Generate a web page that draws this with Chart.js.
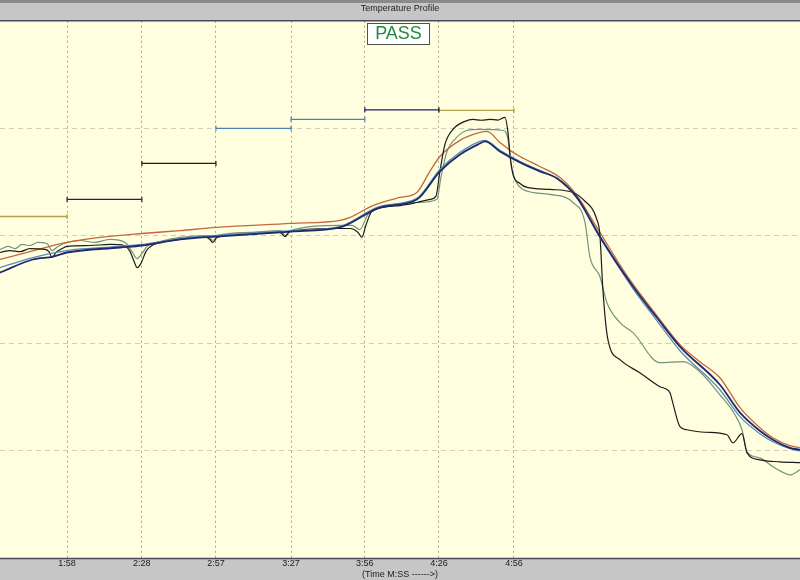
<!DOCTYPE html>
<html>
<head>
<meta charset="utf-8">
<script src="https://cdn.jsdelivr.net/npm/chart.js@4/dist/chart.umd.min.js"></script>
<style>
  html, body { margin: 0; padding: 0; background: #c6c6c6; }
  canvas { display: block; }
</style>
</head>
<body>
<canvas id="profile" width="800" height="580"></canvas>
<script>
// time axis (seconds) and its labels
const tickTimes = [118, 147.8, 177.3, 207.2, 236.6, 266.1, 296];
const tickLabels = ["1:58", "2:28", "2:57", "3:27", "3:56", "4:26", "4:56"];

// oven zone setpoints
const zoneStart = [85, 118, 147.8, 177.3, 207.2, 236.6, 266.1];
const zoneEnd = [118, 147.8, 177.3, 207.2, 236.6, 266.1, 296];
const zoneTemp = [190.8, 200.3, 220.4, 240.0, 245.0, 250.3, 250.0];

// thermocouple readings
const navyTime = [91.3, 104.4, 112.4, 118.0, 139.1, 147.8, 163.0, 177.3, 207.2, 226.7, 242.6, 257.3, 266.5, 274.5, 282.4, 284.4, 290.4, 298.4, 306.3, 313.1, 321.1, 330.2, 343.4, 352.9, 362.1, 378.0, 386.0, 393.9, 399.1, 405.9, 409.9];
const navyTemp = [159.5, 166.8, 168.4, 170.7, 173.5, 174.6, 178.0, 179.6, 182.4, 184.7, 195.8, 200.3, 216.0, 225.4, 231.5, 232.7, 227.1, 221.0, 216.0, 212.1, 201.4, 179.6, 151.7, 134.4, 118.2, 96.9, 81.3, 71.2, 66.2, 61.7, 60.6];

const steelTime = [91.3, 104.4, 118.0, 139.1, 147.8, 163.0, 177.3, 207.2, 226.7, 242.6, 257.3, 266.5, 274.5, 282.4, 284.4, 290.4, 298.4, 306.3, 313.1, 321.1, 330.2, 343.4, 352.9, 362.1, 378.0, 386.0, 393.9, 399.1, 405.9, 409.9];
const steelTemp = [162.3, 167.9, 171.8, 174.1, 175.2, 178.5, 180.2, 182.9, 185.2, 196.4, 200.9, 217.1, 226.6, 232.7, 233.3, 227.7, 221.5, 216.5, 212.0, 200.9, 179.1, 150.6, 132.7, 115.9, 94.1, 79.1, 69.6, 65.1, 61.2, 60.0];

const redTime = [91.3, 103.2, 118.0, 131.1, 147.8, 163.0, 177.3, 207.2, 226.7, 230.7, 239.8, 250.6, 257.3, 262.5, 266.5, 274.5, 282.4, 285.2, 290.4, 294.4, 298.4, 306.3, 314.3, 321.1, 329.0, 341.0, 352.9, 362.1, 370.0, 378.0, 386.0, 393.9, 399.1, 405.9, 409.9];
const redTemp = [166.8, 171.2, 176.3, 179.1, 181.3, 182.9, 184.7, 186.9, 188.6, 190.3, 196.9, 201.4, 204.2, 216.0, 224.3, 233.3, 237.7, 238.3, 232.1, 227.7, 224.3, 218.7, 212.5, 202.5, 184.7, 157.8, 135.5, 119.3, 109.8, 100.8, 84.1, 72.9, 67.3, 62.9, 61.7];

const blackTime = [91.3, 95.3, 99.3, 103.2, 109.2, 110.8, 112.0, 113.6, 116.0, 118.0, 127.1, 135.1, 140.7, 143.1, 144.7, 145.9, 147.4, 149.4, 151.8, 163.0, 172.9, 174.9, 176.1, 177.7, 186.9, 202.8, 204.8, 206.8, 222.7, 230.7, 233.9, 235.4, 237.0, 239.4, 250.6, 257.3, 262.5, 264.9, 266.5, 268.5, 271.7, 276.5, 279.6, 283.0, 286.4, 289.5, 292.4, 293.6, 294.4, 295.6, 298.4, 301.2, 310.3, 319.5, 323.5, 329.0, 330.2, 331.4, 333.4, 338.2, 346.1, 354.1, 358.1, 358.9, 362.1, 364.9, 372.0, 380.8, 383.2, 386.8, 388.8, 393.9, 401.9, 409.9];
const blackTemp = [170.7, 171.8, 171.2, 172.9, 172.4, 171.2, 167.9, 170.7, 172.9, 174.1, 174.6, 175.2, 174.6, 171.2, 165.7, 162.3, 164.5, 171.2, 174.6, 178.0, 179.6, 178.0, 176.3, 179.1, 180.7, 181.9, 179.6, 182.4, 184.1, 184.1, 181.9, 179.1, 185.8, 193.6, 196.9, 198.6, 200.3, 202.0, 216.0, 231.0, 239.4, 243.9, 245.0, 244.5, 245.0, 244.6, 246.1, 237.7, 225.4, 214.3, 209.2, 207.0, 205.9, 204.2, 200.3, 189.1, 180.7, 150.0, 122.1, 110.9, 103.6, 95.8, 92.5, 88.6, 73.5, 71.8, 70.4, 69.0, 64.5, 69.6, 58.9, 55.0, 53.9, 53.4];

const grayTime = [91.3, 94.5, 97.3, 100.1, 103.2, 106.4, 110.0, 112.0, 114.4, 118.0, 123.2, 129.1, 135.1, 141.1, 143.9, 145.9, 147.8, 150.2, 155.0, 163.0, 174.1, 176.1, 178.1, 190.9, 203.2, 204.8, 206.8, 226.7, 231.5, 234.6, 237.8, 242.6, 257.3, 265.3, 266.9, 269.3, 272.5, 277.3, 282.4, 291.6, 293.6, 294.8, 296.4, 299.6, 310.3, 319.5, 324.3, 326.2, 330.2, 333.0, 338.2, 343.4, 354.1, 363.3, 370.0, 378.0, 384.0, 386.8, 388.8, 393.9, 399.1, 402.7, 405.9, 409.9];
const grayTemp = [172.4, 174.1, 172.9, 175.2, 174.6, 176.3, 175.7, 171.8, 174.1, 176.3, 177.4, 176.3, 178.0, 176.3, 171.2, 167.3, 170.1, 174.6, 176.8, 179.1, 180.2, 177.4, 180.2, 181.9, 182.9, 180.2, 182.9, 185.8, 185.8, 183.5, 191.9, 195.8, 198.6, 200.3, 212.6, 227.1, 234.0, 238.8, 239.4, 238.8, 234.0, 219.8, 211.4, 205.9, 203.1, 198.6, 187.4, 168.4, 157.3, 142.7, 131.6, 126.0, 109.2, 109.8, 104.2, 91.3, 80.2, 71.8, 59.5, 56.1, 51.1, 48.3, 46.6, 49.4];

const zoneColors = ["#b4a04c", "#22244e", "#1e1e1e", "#4f82b2", "#4f82b2", "#1c1c5a", "#b4a04c"];

function pts(xs, ys) {
    return xs.map((x, i) => ({ x: x, y: ys[i] }));
}

function curve(data, color, width) {
    return {
        data: data,
        borderColor: color,
        borderWidth: width,
        pointRadius: 0,
        cubicInterpolationMode: "monotone",
        fill: false
    };
}

let datasets = [
    curve(pts(navyTime, navyTemp), "#1f2a6e", 1.8),
    curve(pts(steelTime, steelTemp), "#5a8ab4", 1.3),
    curve(pts(blackTime, blackTemp), "#1c1c1c", 1.2),
    curve(pts(redTime, redTemp), "#c4673f", 1.3),
    curve(pts(grayTime, grayTemp), "#74927f", 1.2)
];

zoneTemp.forEach((t, i) => {
    datasets.push({
        data: [{ x: zoneStart[i], y: t }, { x: zoneEnd[i], y: t }],
        borderColor: zoneColors[i],
        borderWidth: 1.3,
        pointStyle: "line",
        rotation: 90,
        pointRadius: 2.5,
        pointBorderColor: zoneColors[i],
        pointBorderWidth: 1.2,
        fill: false
    });
});

const frame = {
    id: "frame",
    beforeDraw(chart) {
        const ctx = chart.ctx;
        const a = chart.chartArea;
        ctx.save();
        ctx.fillStyle = "#c6c6c6";
        ctx.fillRect(0, 0, chart.width, chart.height);
        ctx.fillStyle = "#8a8a8a";
        ctx.fillRect(0, 0, chart.width, 3);
        ctx.fillStyle = "#ffffe0";
        ctx.fillRect(a.left, a.top, a.right - a.left, a.bottom - a.top);
        ctx.restore();
    },
    afterDraw(chart) {
        const ctx = chart.ctx;
        const a = chart.chartArea;
        ctx.save();
        ctx.strokeStyle = "#4a4a5c";
        ctx.lineWidth = 1.5;
        ctx.beginPath();
        ctx.moveTo(0, a.top);
        ctx.lineTo(chart.width, a.top);
        ctx.moveTo(0, a.bottom);
        ctx.lineTo(chart.width, a.bottom);
        ctx.stroke();

        // PASS badge
        ctx.fillStyle = "#ffffff";
        ctx.fillRect(367.5, 23.5, 62, 21);
        ctx.strokeStyle = "#505050";
        ctx.lineWidth = 1;
        ctx.strokeRect(367.5, 23.5, 62, 21);
        ctx.fillStyle = "#24883c";
        ctx.font = "18px 'Liberation Sans', Arial, sans-serif";
        ctx.textAlign = "center";
        ctx.textBaseline = "middle";
        ctx.fillText("PASS", 398.5, 34.5);
        ctx.restore();
    }
};

Chart.defaults.font.family = "'Liberation Sans', Arial, sans-serif";

new Chart(document.getElementById("profile").getContext("2d"), {
    type: "line",
    data: { datasets: datasets },
    options: {
        responsive: false,
        animation: false,
        layout: { padding: 0, autoPadding: false },
        plugins: {
            legend: { display: false },
            tooltip: { enabled: false },
            title: {
                display: true,
                text: "Temperature Profile",
                color: "#222222",
                font: { size: 9, weight: "normal" },
                padding: { top: 3, bottom: 7 }
            }
        },
        scales: {
            x: {
                type: "linear",
                min: 91.3,
                max: 409.9,
                afterBuildTicks: function (scale) {
                    scale.ticks = tickTimes.map(v => ({ value: v }));
                },
                ticks: {
                    autoSkip: false,
                    maxRotation: 0,
                    padding: 0,
                    color: "#222222",
                    font: { size: 9 },
                    callback: function (value, index) {
                        return tickLabels[index];
                    }
                },
                grid: { color: "#a8a894", lineWidth: 1, drawTicks: false },
                border: { display: false, dash: [2, 3] },
                title: {
                    display: true,
                    text: "(Time M:SS ------>)",
                    color: "#222222",
                    font: { size: 9 },
                    padding: 0
                }
            },
            y: {
                min: 0,
                max: 300,
                ticks: { display: false, stepSize: 60 },
                grid: { color: "#cfcfbd", lineWidth: 1, drawTicks: false },
                border: { display: false, dash: [5, 4] }
            }
        }
    },
    plugins: [frame]
});
</script>
</body>
</html>
